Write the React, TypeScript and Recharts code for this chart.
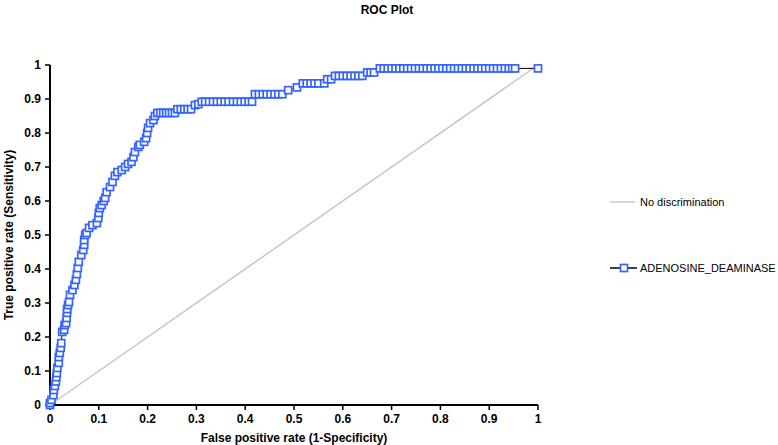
import { LineChart, Line, XAxis, YAxis, Legend } from "recharts";

const FONT = "'Liberation Sans', Arial, Helvetica, sans-serif";

// ROC points (false positive rate, true positive rate)
const fpr = [
  0, 0.0, 0.003, 0.007, 0.008, 0.01, 0.012, 0.013, 0.014, 0.015, 0.018, 0.018,
  0.02, 0.022, 0.023, 0.025, 0.029, 0.03, 0.033, 0.034, 0.035, 0.035, 0.037,
  0.039, 0.041, 0.046, 0.05, 0.053, 0.055, 0.057, 0.059, 0.064, 0.068, 0.07,
  0.07, 0.072, 0.075, 0.08, 0.087, 0.096, 0.099, 0.1, 0.102, 0.106, 0.11,
  0.113, 0.116, 0.123, 0.128, 0.133, 0.138, 0.147, 0.154, 0.16, 0.167, 0.171,
  0.174, 0.181, 0.184, 0.193, 0.197, 0.199, 0.201, 0.205, 0.212, 0.215, 0.22,
  0.226, 0.232, 0.238, 0.244, 0.25, 0.256, 0.261, 0.268, 0.275, 0.282, 0.289,
  0.297, 0.304, 0.311, 0.318, 0.326, 0.334, 0.342, 0.35, 0.358, 0.366, 0.375,
  0.383, 0.391, 0.399, 0.407, 0.414, 0.42, 0.428, 0.436, 0.444, 0.452, 0.46,
  0.468, 0.476, 0.488, 0.506, 0.518, 0.526, 0.534, 0.542, 0.55, 0.562, 0.568,
  0.576, 0.584, 0.592, 0.6, 0.608, 0.616, 0.624, 0.632, 0.64, 0.65, 0.657,
  0.664, 0.676, 0.684, 0.692, 0.7, 0.708, 0.716, 0.724, 0.732, 0.74, 0.748,
  0.756, 0.764, 0.772, 0.78, 0.788, 0.796, 0.804, 0.812, 0.82, 0.828, 0.836,
  0.844, 0.852, 0.86, 0.868, 0.876, 0.884, 0.892, 0.9, 0.908, 0.916, 0.924,
  0.932, 0.94, 0.947, 0.953, 1,
];
const tpr = [
  0, 0.006, 0.015, 0.029, 0.044, 0.056, 0.069, 0.082, 0.094, 0.109, 0.124,
  0.141, 0.153, 0.168, 0.182, 0.215, 0.221, 0.235, 0.241, 0.256, 0.271, 0.282,
  0.294, 0.303, 0.324, 0.338, 0.353, 0.368, 0.385, 0.403, 0.421, 0.441, 0.456,
  0.471, 0.485, 0.5, 0.506, 0.521, 0.529, 0.535, 0.55, 0.565, 0.579, 0.588,
  0.6, 0.609, 0.626, 0.641, 0.656, 0.674, 0.685, 0.691, 0.7, 0.709, 0.715,
  0.729, 0.744, 0.759, 0.765, 0.774, 0.785, 0.8, 0.815, 0.829, 0.838, 0.85,
  0.859, 0.859, 0.859, 0.859, 0.859, 0.859, 0.859, 0.87, 0.87, 0.87, 0.87,
  0.87, 0.882, 0.885, 0.892, 0.892, 0.892, 0.892, 0.892, 0.892, 0.892, 0.892,
  0.892, 0.892, 0.892, 0.892, 0.892, 0.892, 0.914, 0.914, 0.914, 0.914, 0.914,
  0.914, 0.914, 0.914, 0.926, 0.934, 0.946, 0.946, 0.946, 0.946, 0.946, 0.946,
  0.958, 0.958, 0.968, 0.968, 0.968, 0.968, 0.968, 0.968, 0.968, 0.968, 0.978,
  0.978, 0.978, 0.99, 0.99, 0.99, 0.99, 0.99, 0.99, 0.99, 0.99, 0.99, 0.99,
  0.99, 0.99, 0.99, 0.99, 0.99, 0.99, 0.99, 0.99, 0.99, 0.99, 0.99, 0.99, 0.99,
  0.99, 0.99, 0.99, 0.99, 0.99, 0.99, 0.99, 0.99, 0.99, 0.99, 0.99, 0.99, 0.99,
  0.99, 0.99, 1,
];

// reference line
const diagX = [0, 1];
const diagY = [0, 1];

const axisTicks = [0, 0.1, 0.2, 0.3, 0.4, 0.5, 0.6, 0.7, 0.8, 0.9, 1];

const rocData = fpr.map((x, i) => ({ fpr: x, tpr: tpr[i] }));
const diagData = diagX.map((x, i) => ({ fpr: x, tpr: diagY[i] }));

const BLUE = "#3563ff";
const GREY = "#c3c6d4";

const SquareDot = (props: any) => {
  const { cx, cy, index } = props;
  if (cx == null || cy == null) return null;
  return (
    <rect
      key={`sq-${index}`}
      x={cx - 3.5}
      y={cy - 3.5}
      width={7}
      height={7}
      fill="#fff"
      stroke={BLUE}
      strokeWidth={1.7}
    />
  );
};

const tickStyle = { fontSize: 12, fontWeight: "bold", fill: "#000", fontFamily: FONT };

const renderLegend = () => (
  <div style={{ fontFamily: FONT, fontSize: 11, color: "#000" }}>
    <div style={{ display: "flex", alignItems: "center", height: 20 }}>
      <svg width={30} height={10}>
        <line x1={4} y1={5} x2={29} y2={5} stroke={GREY} strokeWidth={1.5} />
      </svg>
      <span style={{ marginLeft: 4 }}>No discrimination</span>
    </div>
    <div style={{ display: "flex", alignItems: "center", height: 20, marginTop: 46 }}>
      <svg width={32} height={10}>
        <line x1={4} y1={5} x2={31} y2={5} stroke="#000" strokeWidth={1.5} />
        <rect x={14.5} y={1.5} width={7} height={7} fill="#fff" stroke={BLUE} strokeWidth={1.7} />
      </svg>
      <span style={{ marginLeft: 2 }}>ADENOSINE_DEAMINASE</span>
    </div>
  </div>
);

export default function App() {
  return (
    <div style={{ position: "absolute", left: 0, top: 0, width: 778, height: 445, background: "#fff" }}>
      <div
        style={{
          position: "absolute",
          top: 3,
          left: 0,
          width: 774,
          textAlign: "center",
          fontFamily: FONT,
          fontSize: 12,
          fontWeight: "bold",
        }}
      >
        ROC Plot
      </div>
      <LineChart width={778} height={445} margin={{ top: 65, right: 240, bottom: 0, left: 0 }}>
        <XAxis
          type="number"
          dataKey="fpr"
          domain={[0, 1]}
          ticks={axisTicks}
          height={40}
          tick={tickStyle}
          tickSize={5}
          tickMargin={4}
          axisLine={{ stroke: "#000", strokeWidth: 2 }}
          tickLine={{ stroke: "#000", strokeWidth: 1.5 }}
          label={{
            value: "False positive rate (1-Specificity)",
            position: "insideBottom",
            offset: 3,
            style: { fontSize: 12, fontWeight: "bold", fill: "#000", fontFamily: FONT },
          }}
        />
        <YAxis
          type="number"
          domain={[0, 1]}
          ticks={axisTicks}
          width={50}
          tick={tickStyle}
          tickSize={5}
          tickMargin={4}
          axisLine={{ stroke: "#000", strokeWidth: 2 }}
          tickLine={{ stroke: "#000", strokeWidth: 1.5 }}
          label={(p: any) => {
            const vb = p.viewBox || { x: 0, y: 65, height: 340 };
            const x = vb.x + 9;
            const y = vb.y + vb.height / 2;
            return (
              <text
                x={x}
                y={y}
                transform={`rotate(-90 ${x} ${y})`}
                textAnchor="middle"
                dominantBaseline="central"
                style={{ fontSize: 12, fontWeight: "bold", fill: "#000", fontFamily: FONT }}
              >
                True positive rate (Sensitivity)
              </text>
            );
          }}
        />
        <Legend
          layout="vertical"
          align="center"
          verticalAlign="middle"
          content={renderLegend}
          wrapperStyle={{ left: 606, top: 192, width: 172 }}
        />
        <Line
          data={diagData}
          dataKey="tpr"
          name="No discrimination"
          stroke={GREY}
          strokeWidth={1.5}
          dot={false}
          activeDot={false}
          isAnimationActive={false}
        />
        <Line
          data={rocData}
          dataKey="tpr"
          name="ADENOSINE_DEAMINASE"
          stroke="#000"
          strokeWidth={1}
          dot={SquareDot}
          activeDot={false}
          isAnimationActive={false}
        />
      </LineChart>
    </div>
  );
}
